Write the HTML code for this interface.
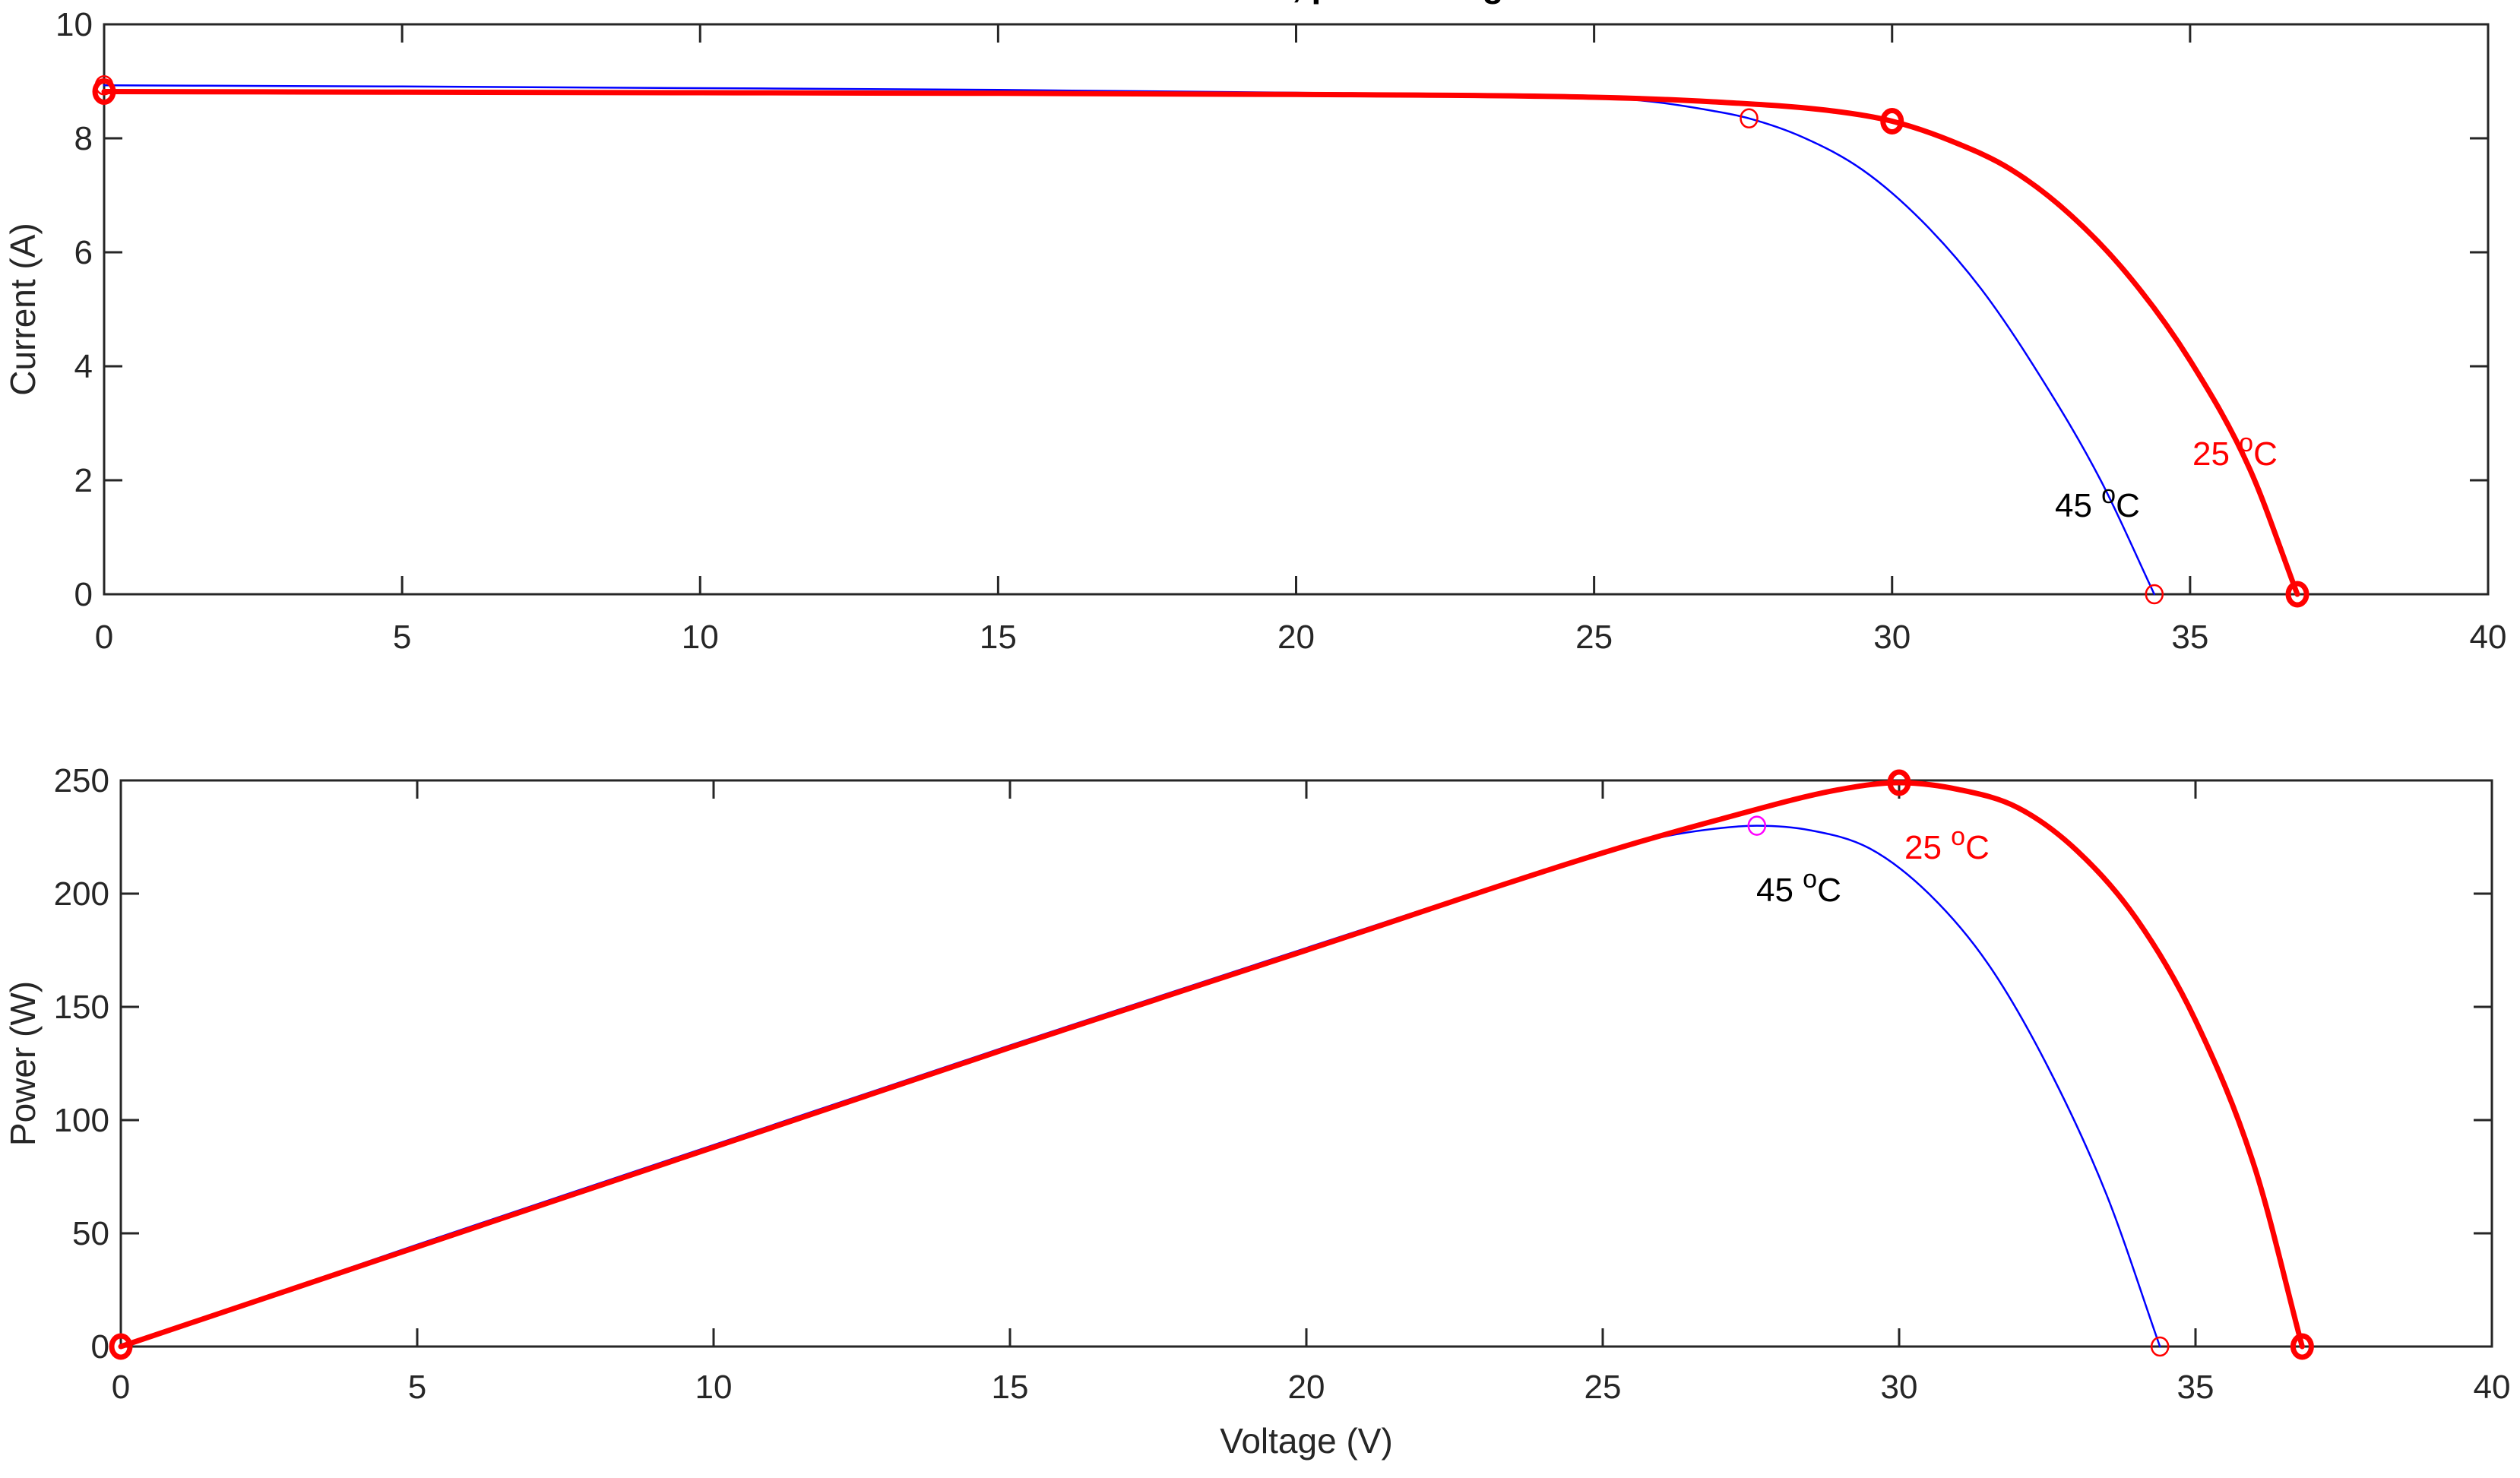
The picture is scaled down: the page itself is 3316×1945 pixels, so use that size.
<!DOCTYPE html>
<html><head><meta charset="utf-8"><style>
html,body{margin:0;padding:0;background:#fff;overflow:hidden}
svg{display:block}
text{font-family:"Liberation Sans",Arial,sans-serif;fill:#262626}
</style></head><body>
<svg id="chart" width="3316" height="1945" viewBox="0 0 3316 1945" xmlns="http://www.w3.org/2000/svg">
<text x="1700" y="-4" font-size="46" font-weight="bold" style="fill:#000">, peak voltage</text>
<g id="top"></g>
<g id="bot"></g>
</svg>
<script>
const xTicks = [0,5,10,15,20,25,30,35,40];
const iTicks = [0,2,4,6,8,10];
const pTicks = [0,50,100,150,200,250];
const v25 = [0,5,10,15,20,25,27,29,30,31,32,33,34,35,36,36.8];
const i25 = [8.82,8.81,8.8,8.79,8.77,8.72,8.64,8.48,8.3,7.95,7.45,6.65,5.55,4.1,2.2,0];
const p25 = [0,44,88,132,175,218,233,246,249,246,238,219,189,144,79,0];
const v45 = [0,5,10,15,20,25,26,27,27.6,28.5,29.5,30.5,31.5,32.5,33.5,34.4];
const i45 = [8.93,8.91,8.88,8.85,8.8,8.72,8.64,8.48,8.35,8.02,7.45,6.55,5.35,3.8,2.0,0];
const p45 = [0,45,89,133,176,218,225,229,230,228,220,200,169,124,67,0];
const mpp25 = [30,8.3,249];
const mpp45 = [27.6,8.35,230];
const voc25 = 36.8, voc45 = 34.4;

const NS="http://www.w3.org/2000/svg";
function mk(parent,tag,attrs){const e=document.createElementNS(NS,tag);for(const k in attrs)e.setAttribute(k,attrs[k]);parent.appendChild(e);return e;}

function axes(g,box,yTicks,yMax,yLabel,xLabel,tickLblX,xLblY){
  const sx=v=>box.l+(v/40)*(box.r-box.l);
  const sy=v=>box.b-(v/yMax)*(box.b-box.t);
  const frame=mk(g,'rect',{x:box.l,y:box.t,width:box.r-box.l,height:box.b-box.t,fill:'none',stroke:'#262626','stroke-width':3});
  
  
  xTicks.forEach(v=>{
    const x=sx(v);
    const t1=mk(g,'line',{x1:x,x2:x,y1:box.b,y2:box.b-24,stroke:'#262626','stroke-width':3});
    
    
    const t2=mk(g,'line',{x1:x,x2:x,y1:box.t,y2:box.t+24,stroke:'#262626','stroke-width':3});
    
    
    const tl=mk(g,'text',{x:x,y:xLblY,'font-size':44,'text-anchor':'middle'});
    tl.textContent=v;
    
    
  });
  yTicks.forEach(v=>{
    const y=sy(v);
    const t1=mk(g,'line',{x1:box.l,x2:box.l+24,y1:y,y2:y,stroke:'#262626','stroke-width':3});
    
    
    const t2=mk(g,'line',{x1:box.r,x2:box.r-24,y1:y,y2:y,stroke:'#262626','stroke-width':3});
    
    
    const tl=mk(g,'text',{x:tickLblX,y:y+15,'font-size':44,'text-anchor':'end'});
    tl.textContent=v;
    
    
  });
  const yl=mk(g,'text',{x:0,y:0,'font-size':46,'text-anchor':'middle',transform:`translate(46,${(box.t+box.b)/2}) rotate(-90)`});
  yl.textContent=yLabel;
  
  
  if(xLabel){
    const xl=mk(g,'text',{x:(box.l+box.r)/2,y:1912,'font-size':46,'text-anchor':'middle'});
    xl.textContent=xLabel;
    
    
  }
  return {sx,sy};
}
function smoothPath(px,py){
  const n=px.length,d=[],m=new Array(n);
  for(let i=0;i<n-1;i++)d.push((py[i+1]-py[i])/(px[i+1]-px[i]));
  m[0]=d[0];m[n-1]=d[n-2];
  for(let i=1;i<n-1;i++){m[i]=(d[i-1]*d[i]<=0)?0:(d[i-1]+d[i])/2;}
  for(let i=0;i<n-1;i++){
    if(d[i]===0){m[i]=0;m[i+1]=0;continue;}
    const a=m[i]/d[i],b=m[i+1]/d[i],s=a*a+b*b;
    if(s>9){const t=3/Math.sqrt(s);m[i]=t*a*d[i];m[i+1]=t*b*d[i];}
  }
  let s='M'+px[0].toFixed(1)+','+py[0].toFixed(1);
  for(let i=0;i<n-1;i++){
    const h=(px[i+1]-px[i])/3;
    s+=' C'+(px[i]+h).toFixed(1)+','+(py[i]+m[i]*h).toFixed(1)+' '+(px[i+1]-h).toFixed(1)+','+(py[i+1]-m[i+1]*h).toFixed(1)+' '+px[i+1].toFixed(1)+','+py[i+1].toFixed(1);
  }
  return s;
}
function curve(g,sx,sy,xs,ys,color,w,name){
  const d=smoothPath(xs.map(sx),ys.map(sy));
  const p=mk(g,'path',{d:d,fill:'none',stroke:color,'stroke-width':w,'stroke-linejoin':'round','stroke-linecap':'round'});
  
  
}
function marker(g,x,y,color,w,name){
  const c=mk(g,'ellipse',{cx:x,cy:y,rx:w>3?12:11,ry:w>3?14:12,fill:'none',stroke:color,'stroke-width':w});
  
  
}
function label(g,x,y,txt,color,name){
  const t=mk(g,'text',{x:x,y:y,'font-size':44,style:'fill:'+color});
  
  
  const a=mk(t,'tspan',{});a.textContent=txt+' ';
  const b=mk(t,'tspan',{dy:-18,'font-size':34});b.textContent='o';
  const c=mk(t,'tspan',{dy:18});c.textContent='C';
}

const gt=document.getElementById('top');
const A=axes(gt,{l:137,r:3274,t:32,b:782},iTicks,10,'Current (A)',null,122,853);
curve(gt,A.sx,A.sy,v45,i45,'#0000ff',2.5,'iv-curve-45c');
curve(gt,A.sx,A.sy,v25,i25,'#ff0000',7,'iv-curve-25c');
marker(gt,A.sx(0),A.sy(i45[0]),'#ff0000',2.5,'isc-marker-45c');
marker(gt,A.sx(mpp45[0]),A.sy(mpp45[1]),'#ff0000',2.5,'mpp-marker-45c');
marker(gt,A.sx(voc45),A.sy(0),'#ff0000',2.5,'voc-marker-45c');
marker(gt,A.sx(0),A.sy(i25[0]),'#ff0000',7,'isc-marker-25c');
marker(gt,A.sx(mpp25[0]),A.sy(mpp25[1]),'#ff0000',7,'mpp-marker-25c');
marker(gt,A.sx(voc25),A.sy(0),'#ff0000',7,'voc-marker-25c');
label(gt,2704,680,'45','#000','label-45c-iv');
label(gt,2885,612,'25','#ff0000','label-25c-iv');

const gb=document.getElementById('bot');
const B=axes(gb,{l:159,r:3279,t:1027,b:1772},pTicks,250,'Power (W)','Voltage (V)',144,1840);
curve(gb,B.sx,B.sy,v45,p45,'#0000ff',2.5,'pv-curve-45c');
curve(gb,B.sx,B.sy,v25,p25,'#ff0000',7,'pv-curve-25c');
marker(gb,B.sx(mpp45[0]),B.sy(mpp45[2]),'#ff00ff',2.5,'pmax-marker-45c');
marker(gb,B.sx(voc45),B.sy(0),'#ff0000',2.5,'pv-voc-marker-45c');
marker(gb,B.sx(0),B.sy(0),'#ff0000',7,'pv-origin-marker');
marker(gb,B.sx(mpp25[0]),B.sy(mpp25[2]),'#ff0000',7,'pmax-marker-25c');
marker(gb,B.sx(voc25),B.sy(0),'#ff0000',7,'pv-voc-marker-25c');
label(gb,2311,1186,'45','#000','label-45c-pv');
label(gb,2506,1130,'25','#ff0000','label-25c-pv');
</script>
</body></html>
